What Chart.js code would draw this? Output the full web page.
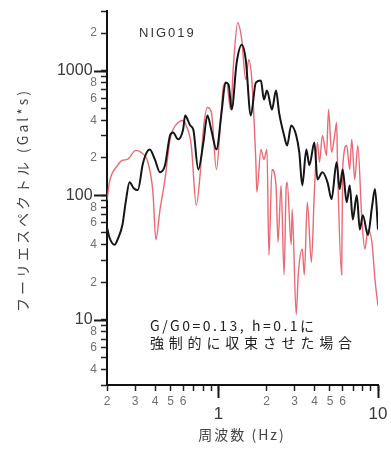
<!DOCTYPE html>
<html>
<head>
<meta charset="utf-8">
<script src="https://cdn.jsdelivr.net/npm/chart.js@4.4.0/dist/chart.umd.min.js"></script>
<style>
html, body { margin: 0; padding: 0; background: #fff; }
#wrap { width: 391px; height: 452px; }
</style>
</head>
<body>
<div id="wrap"><canvas id="spectrum" width="391" height="452"></canvas></div>
<script>
// observed spectrum (black)
const blackFreq = [0.2, 0.207, 0.223, 0.236, 0.25, 0.262, 0.277, 0.294, 0.312, 0.335, 0.355, 0.371, 0.399, 0.43, 0.462,
    0.497, 0.519, 0.558, 0.6, 0.618, 0.665, 0.695, 0.747, 0.804, 0.852, 0.903, 0.971, 1.045, 1.107, 1.157, 1.209, 1.3,
    1.399, 1.482, 1.594, 1.715, 1.845, 1.927, 2.013, 2.164, 2.294, 2.398, 2.578, 2.694, 2.856, 3.071, 3.21, 3.352, 3.555,
    3.713, 3.992, 4.17, 4.482, 4.826, 5.116, 5.502, 5.745, 6.002, 6.363, 6.65, 6.95, 7.361, 7.692, 8.035, 8.646, 9.162,
    9.575, 10];
const blackAmp = [55, 46, 40, 46, 58, 88, 127, 114, 110, 177, 221, 233, 194, 153, 174,
    302, 319, 281, 337, 437, 363, 337, 161, 265, 437, 331, 233, 461, 802, 773, 488, 1159,
    1614, 1225, 437, 802, 832, 586, 692, 488, 692, 461, 302, 251, 363, 302, 221, 120, 233,
    174, 265, 134, 153, 127, 93, 184, 112, 161, 88, 120, 64, 100, 53, 69, 48, 80,
    112, 53];

// computed spectrum, G/G0 and h fixed (red)
const redFreq = [0.2, 0.207, 0.233, 0.25, 0.269, 0.303, 0.326, 0.361, 0.388, 0.405, 0.43, 0.462, 0.497, 0.519, 0.558,
    0.6, 0.627, 0.675, 0.726, 0.769, 0.804, 0.852, 0.903, 0.971, 1.03, 1.076, 1.124, 1.191, 1.244, 1.319, 1.399, 1.482,
    1.548, 1.617, 1.715, 1.74, 1.845, 1.927, 2.013, 2.071, 2.164, 2.294, 2.362, 2.468, 2.578, 2.654, 2.694, 2.856, 2.897,
    3.071, 3.162, 3.352, 3.451, 3.606, 3.821, 3.992, 4.17, 4.296, 4.482, 4.753, 4.898, 5.116, 5.345, 5.502, 5.584, 5.917,
    6.002, 6.363, 6.65, 6.846, 7.148, 7.471, 7.921, 8.277, 8.646, 9.162, 9.575, 10];
const redAmp = [91, 127, 174, 191, 194, 229, 221, 184, 106, 44, 77, 134, 281, 337, 384,
    398, 363, 251, 83, 153, 337, 506, 461, 161, 384, 759, 802, 488, 1159, 2421, 1770, 847,
    1225, 847, 184, 106, 233, 194, 233, 33, 161, 120, 42, 120, 23, 112, 127, 40, 77,
    11, 23, 37, 23, 88, 29, 106, 265, 184, 302, 209, 488, 221, 302, 384, 161, 23,
    161, 251, 161, 281, 134, 251, 64, 37, 53, 42, 21, 13];

const xTicks = [0.2, 0.3, 0.4, 0.5, 0.6, 0.7, 0.8, 0.9, 1, 2, 3, 4, 5, 6, 7, 8, 9, 10];
const xTickLabels = ['2', '3', '4', '5', '6', '', '', '', '1', '2', '3', '4', '5', '6', '', '', '', '10'];
const yTicks = [3, 4, 5, 6, 7, 8, 9, 10, 20, 30, 40, 50, 60, 70, 80, 90, 100, 200, 300, 400, 500, 600, 700, 800, 900,
    1000, 2000, 3000];
const yTickLabels = ['', '4', '', '6', '', '8', '', '10', '2', '', '4', '', '6', '', '8', '', '100', '2', '', '4', '', '6',
    '', '8', '', '1000', '2', ''];
const decades = [1, 10, 100, 1000];

const stationName = 'NIG019';
const noteLines = ['G/G0=0.13, h=0.1に', '強制的に収束させた場合'];
const xTitle = '周波数 (Hz)';
const yTitle = 'フーリエスペクトル (Gal*s)';

const digitFont = '"Liberation Sans", Arial, sans-serif';
const jpFont = '"Noto Sans CJK JP", sans-serif';

function toPoints(freq, amp) {
    return freq.map((f, i) => ({x: f, y: amp[i]}));
}

// longer marks at decades, plus the free text around the plot
const decorations = {
    id: 'decorations',
    afterDraw(chart) {
        const ctx = chart.ctx;
        const area = chart.chartArea;
        const xs = chart.scales.x, ys = chart.scales.y;
        ctx.save();
        ctx.strokeStyle = '#1a1a1a';
        ctx.lineWidth = 2;
        decades.forEach(v => {
            if (v >= ys.min && v <= ys.max) {
                const py = Math.round(ys.getPixelForValue(v)) + 0.5;
                ctx.beginPath(); ctx.moveTo(area.left - 13, py); ctx.lineTo(area.left, py); ctx.stroke();
            }
            if (v >= xs.min && v <= xs.max) {
                const px = Math.round(xs.getPixelForValue(v)) + 0.5;
                ctx.beginPath(); ctx.moveTo(px, area.bottom); ctx.lineTo(px, area.bottom + 13); ctx.stroke();
            }
        });

        ctx.fillStyle = '#333';
        ctx.textBaseline = 'middle';
        ctx.textAlign = 'left';
        ctx.font = '13px ' + digitFont;
        ctx.letterSpacing = '2px';
        ctx.fillText(stationName, 139, 33);

        ctx.fillStyle = '#222';
        ctx.font = '14px ' + jpFont;
        ctx.letterSpacing = '2.5px';
        ctx.fillText(noteLines[0], 150, 326);
        ctx.letterSpacing = '4.8px';
        ctx.fillText(noteLines[1], 150, 343);

        ctx.fillStyle = '#444';
        ctx.textAlign = 'center';
        ctx.font = '14px ' + jpFont;
        ctx.letterSpacing = '2px';
        ctx.fillText(xTitle, 242, 435);

        ctx.translate(23, 200);
        ctx.rotate(-Math.PI / 2);
        ctx.letterSpacing = '3px';
        ctx.fillText(yTitle, 0, 0);
        ctx.restore();
    }
};

new Chart(document.getElementById('spectrum'), {
    type: 'line',
    data: {
        datasets: [
            {label: 'observed', data: toPoints(blackFreq, blackAmp), borderColor: '#151515', borderWidth: 2,
             pointRadius: 0, cubicInterpolationMode: 'monotone'},
            {label: 'fixed G/G0', data: toPoints(redFreq, redAmp), borderColor: 'rgba(228, 80, 92, 0.85)', borderWidth: 1.4,
             pointRadius: 0, cubicInterpolationMode: 'monotone'}
        ]
    },
    options: {
        responsive: false,
        animation: false,
        devicePixelRatio: 1,
        layout: {padding: {left: 0, right: 13, top: 10, bottom: 0}},
        plugins: {legend: {display: false}, tooltip: {enabled: false}},
        scales: {
            x: {
                type: 'logarithmic',
                min: 0.2,
                max: 10,
                afterBuildTicks: scale => { scale.ticks = xTicks.map(v => ({value: v, major: decades.includes(v)})); },
                afterFit: scale => { scale.height = 67; },
                border: {display: true, color: '#111', width: 2},
                grid: {drawOnChartArea: false, drawTicks: true, tickLength: 6, tickColor: '#222', tickWidth: 1.5},
                ticks: {
                    autoSkip: false, maxRotation: 0, minRotation: 0, padding: 3,
                    callback: (value, index) => decades.includes(value) ? ['', xTickLabels[index]] : xTickLabels[index],
                    font: c => decades.includes(c.tick && c.tick.value)
                        ? {family: digitFont, size: 17, lineHeight: 0.8}
                        : {family: digitFont, size: 12},
                    color: c => decades.includes(c.tick && c.tick.value) ? '#3a3a3a' : '#707070'
                }
            },
            y: {
                type: 'logarithmic',
                min: 3,
                max: 3000,
                afterBuildTicks: scale => { scale.ticks = yTicks.map(v => ({value: v, major: decades.includes(v)})); },
                afterFit: scale => { scale.width = 107; },
                border: {display: true, color: '#111', width: 2},
                grid: {drawOnChartArea: false, drawTicks: true, tickLength: 6, tickColor: '#222', tickWidth: 1.5},
                ticks: {
                    autoSkip: false, padding: 4,
                    callback: (value, index) => decades.includes(value) ? yTickLabels[index] + ' ' : yTickLabels[index],
                    font: c => decades.includes(c.tick && c.tick.value)
                        ? {family: digitFont, size: 16}
                        : {family: digitFont, size: 12},
                    color: c => decades.includes(c.tick && c.tick.value) ? '#3a3a3a' : '#707070'
                }
            }
        }
    },
    plugins: [decorations]
});
</script>
</body>
</html>
